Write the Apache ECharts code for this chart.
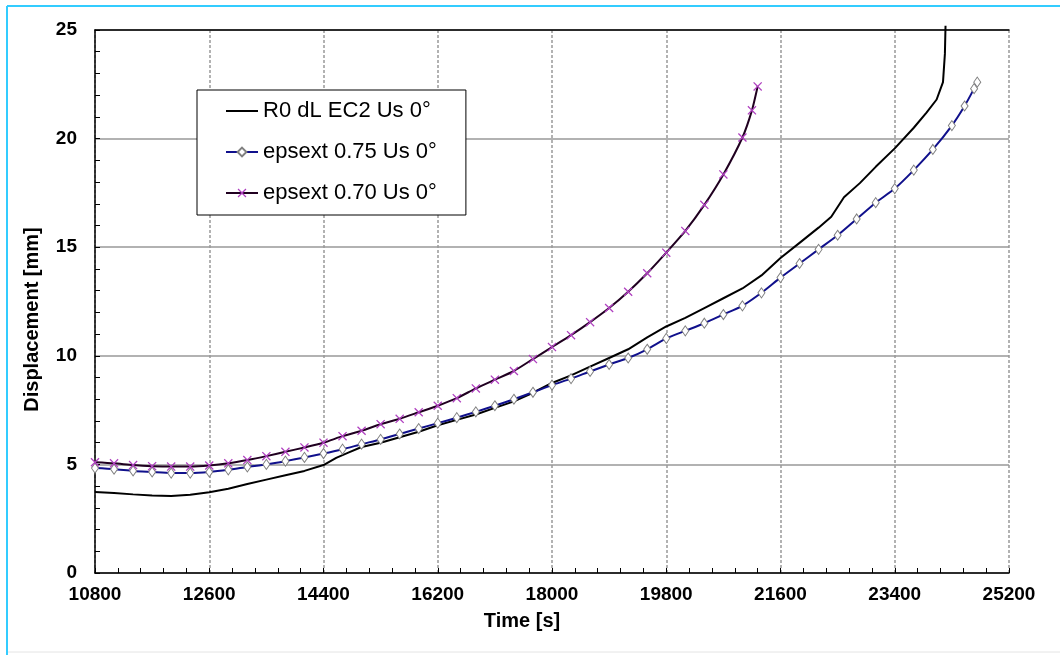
<!DOCTYPE html>
<html>
<head>
<meta charset="utf-8">
<script src="https://cdn.jsdelivr.net/npm/echarts@6/dist/echarts.min.js"></script>
<style>
html,body{margin:0;padding:0;background:#fff;}
#chart{width:1060px;height:655px;}
</style>
</head>
<body>
<div id="chart"></div>
<script>
// ---- Data ----
const seriesNames = ['R0 dL EC2 Us 0°', 'epsext 0.75 Us 0°', 'epsext 0.70 Us 0°'];

const r0Time = [10800,11100,11400,11700,12000,12300,12600,12900,13200,13500,13800,14100,14400,14600,14800,15000,15300,15600,15900,16200,16500,16800,17100,17400,17700,18000,18300,18600,18900,19200,19500,19800,20100,20400,20700,21000,21300,21600,21900,22200,22400,22600,22850,23100,23400,23700,23900,24060,24160,24190,24200];
const r0Disp = [3.73,3.68,3.62,3.57,3.55,3.6,3.72,3.88,4.1,4.3,4.5,4.7,4.97,5.3,5.55,5.8,6.0,6.25,6.5,6.8,7.05,7.3,7.6,7.9,8.3,8.75,9.1,9.5,9.9,10.3,10.85,11.35,11.75,12.2,12.65,13.1,13.7,14.5,15.2,15.9,16.4,17.3,17.95,18.7,19.55,20.5,21.2,21.8,22.6,23.9,25.2];

const e75Time = [10800,11100,11400,11700,12000,12300,12600,12900,13200,13500,13800,14100,14400,14700,15000,15300,15600,15900,16200,16500,16800,17100,17400,17700,18000,18300,18600,18900,19200,19500,19800,20100,20400,20700,21000,21300,21600,21900,22200,22500,22800,23100,23400,23700,24000,24300,24500,24650,24700];
const e75Disp = [4.83,4.78,4.7,4.65,4.6,4.6,4.65,4.75,4.88,5.0,5.15,5.32,5.5,5.7,5.93,6.15,6.4,6.65,6.9,7.15,7.42,7.7,8.0,8.32,8.65,8.95,9.28,9.6,9.9,10.3,10.8,11.15,11.5,11.9,12.3,12.9,13.6,14.25,14.9,15.55,16.3,17.05,17.7,18.55,19.5,20.6,21.5,22.3,22.6];

const e70Time = [10800,11100,11400,11700,12000,12300,12600,12900,13200,13500,13800,14100,14400,14700,15000,15300,15600,15900,16200,16500,16800,17100,17400,17700,18000,18300,18600,18900,19200,19500,19800,20100,20400,20700,21000,21150,21240];
const e70Disp = [5.1,5.05,4.97,4.92,4.9,4.9,4.95,5.05,5.2,5.38,5.58,5.78,6.0,6.3,6.55,6.85,7.1,7.4,7.7,8.05,8.5,8.9,9.3,9.85,10.4,10.95,11.55,12.2,12.95,13.8,14.75,15.75,16.95,18.35,20.05,21.3,22.4];

const xTicks = {min: 10800, max: 25200, step: 1800};
const yTicks = {min: 0, max: 25, step: 5};

function pairs(t, v) { return t.map((x, i) => [x, v[i]]); }

const FONT = '"Liberation Sans", Arial, sans-serif';
const xMark = 'path://M0,1L1,0L5,4L9,0L10,1L6,5L10,9L9,10L5,6L1,10L0,9L4,5Z';

const chart = echarts.init(document.getElementById('chart'), null, {renderer: 'canvas'});
chart.setOption({
  backgroundColor: '#ffffff',
  animation: false,
  textStyle: {fontFamily: FONT},
  grid: {left: 95, right: 51, top: 30, bottom: 82, containLabel: false},
  legend: {
    orient: 'vertical',
    left: 197, top: 90,
    padding: [10, 29, 11, 28],
    borderColor: '#000', borderWidth: 1,
    backgroundColor: '#fff',
    itemWidth: 32, itemHeight: 11, itemGap: 19,
    textStyle: {fontFamily: FONT, fontSize: 22, color: '#000'},
    data: [
      {name: seriesNames[0], itemStyle: {color: 'rgba(0,0,0,0)', borderColor: 'rgba(0,0,0,0)', borderWidth: 0}},
      {name: seriesNames[1]},
      {name: seriesNames[2]}
    ]
  },
  xAxis: [{
    type: 'value', min: xTicks.min, max: xTicks.max, interval: xTicks.step,
    name: 'Time [s]', nameLocation: 'middle', nameGap: 38,
    nameTextStyle: {fontFamily: FONT, fontSize: 20, fontWeight: 'bold', color: '#000', padding: [0, 60, 0, 0]},
    axisLine: {show: true, lineStyle: {color: '#000', width: 1.5}},
    axisTick: {show: true, inside: true, length: 5, lineStyle: {color: '#000'}},
    minorTick: {show: true, splitNumber: 5, length: 5, lineStyle: {color: '#000'}},
    axisLabel: {fontFamily: FONT, fontSize: 19, fontWeight: 'bold', color: '#000', margin: 12,
      formatter: v => String(v)},
    splitLine: {show: true, lineStyle: {color: '#999', type: [3, 2], width: 1.5}}
  }, {
    type: 'value', position: 'top', min: xTicks.min, max: xTicks.max,
    axisLine: {show: true, onZero: false, lineStyle: {color: '#000', width: 1.5}},
    axisTick: {show: false}, axisLabel: {show: false}, splitLine: {show: false}
  }],
  yAxis: {
    type: 'value', min: yTicks.min, max: yTicks.max, interval: yTicks.step,
    name: 'Displacement [mm]', nameLocation: 'middle', nameGap: 53,
    nameTextStyle: {fontFamily: FONT, fontSize: 20, fontWeight: 'bold', color: '#000', padding: [0, 36, 0, 0]},
    axisLine: {show: true, lineStyle: {color: '#000', width: 1.5}},
    axisTick: {show: true, inside: true, length: 5, lineStyle: {color: '#000'}},
    minorTick: {show: true, splitNumber: 5, length: 5, lineStyle: {color: '#000'}},
    axisLabel: {fontFamily: FONT, fontSize: 19, fontWeight: 'bold', color: '#000', margin: 18},
    splitLine: {show: true, lineStyle: {color: '#999', width: 1.5}}
  },
  series: [{
    name: seriesNames[0], type: 'line', xAxisIndex: 0,
    data: pairs(r0Time, r0Disp),
    showSymbol: false, symbol: 'circle', symbolSize: 1, clip: false,
    lineStyle: {color: '#000', width: 2},
    itemStyle: {color: '#000'}, z: 3
  }, {
    name: seriesNames[1], type: 'line', xAxisIndex: 0,
    data: pairs(e75Time, e75Disp),
    smooth: 0.2,
    symbol: 'diamond', symbolSize: [7, 10], showSymbol: true,
    lineStyle: {color: '#10108c', width: 2},
    itemStyle: {color: '#ffffff', borderColor: '#808080', borderWidth: 1},
    z: 4
  }, {
    name: seriesNames[2], type: 'line', xAxisIndex: 0,
    data: pairs(e70Time, e70Disp),
    smooth: 0.2,
    symbol: xMark, symbolSize: 9, showSymbol: true,
    lineStyle: {color: '#200020', width: 2},
    itemStyle: {color: '#b040c0', borderWidth: 0},
    z: 5
  }],
  graphic: [{
    type: 'line', silent: true, z: 100,
    shape: {x1: 7, y1: 6, x2: 1060, y2: 6},
    style: {stroke: '#33ccff', lineWidth: 2}
  }, {
    type: 'line', silent: true, z: 100,
    shape: {x1: 7, y1: 6, x2: 7, y2: 655},
    style: {stroke: '#33ccff', lineWidth: 2}
  }, {
    type: 'line', silent: true, z: 100,
    shape: {x1: 8, y1: 652, x2: 1060, y2: 652},
    style: {stroke: '#e4e4e4', lineWidth: 1}
  }]
});
</script>
</body>
</html>
